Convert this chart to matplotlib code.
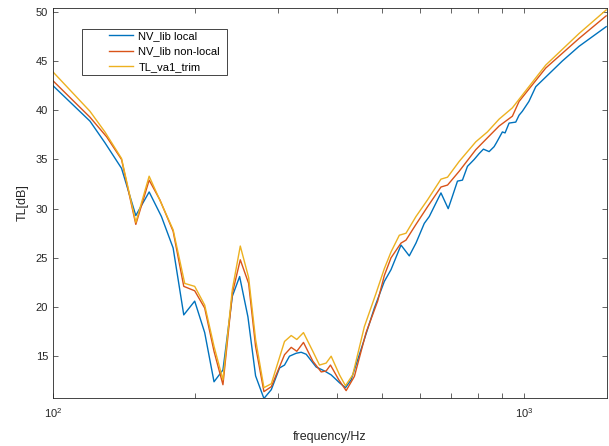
import numpy as np
import matplotlib
matplotlib.use("Agg")
import matplotlib.pyplot as plt
from matplotlib.patches import Rectangle
from matplotlib.ticker import LogLocator, NullFormatter, FixedLocator

plt.rcParams['font.family'] = ['Liberation Sans', 'DejaVu Sans']

# values
f_local = [100, 119.8, 128.9, 139.8, 149.9, 160.0, 169.9, 179.9, 189.5, 199.9,
           209.9, 219.7, 229.5, 240.3, 249.0, 259.3, 269.2, 280.4, 290.7, 302.6,
           310.1, 317.7, 328.3, 336.4, 344.7, 362.0, 377.0, 389.5, 405.7, 417.7,
           429.5, 454.4, 481.1, 505.1, 521.9, 548.0, 570.6, 589.6, 614.0, 629.2,
           666.2, 690.2, 702.8, 722.2, 740.0, 758.3, 783.6, 802.9, 819.9, 843.0,
           863.8, 873.6, 899.5, 911.4, 929.4, 960.3, 975.9, 991.7, 1024, 1059,
           1205, 1308, 1494]
tl_local = [42.5, 38.9, 36.7, 34.1, 29.3, 31.7, 29.2, 26.0, 19.2, 20.6,
            17.4, 12.4, 13.6, 21.1, 23.1, 19.0, 13.0, 10.7, 11.6, 13.8,
            14.1, 15.0, 15.3, 15.4, 15.2, 13.9, 13.5, 13.1, 12.3, 11.8,
            12.6, 16.2, 19.9, 22.6, 23.8, 26.3, 25.2, 26.5, 28.5, 29.2,
            31.6, 30.0, 31.1, 32.8, 32.9, 34.3, 35.0, 35.6, 36.05, 35.8,
            36.3, 36.7, 37.8, 37.7, 38.7, 38.8, 39.5, 39.9, 40.9, 42.4,
            45.0, 46.5, 48.5]

f_nonlocal = [100, 119.8, 130.0, 139.8, 149.9, 160.0, 168.6, 179.9, 189.5, 199.9,
              209.9, 219.7, 229.5, 240.3, 249.8, 260.2, 269.2, 280.4, 290.7, 310.1,
              320.4, 329.3, 340.2, 356.1, 371.0, 380.1, 388.2, 404.3, 419.1, 436.4,
              462.0, 488.9, 505.1, 521.9, 548.0, 561.5, 589.6, 624.0, 666.2, 688.0,
              728.2, 790.0, 836.0, 885.1, 944.6, 975.9, 1112, 1308, 1494]
tl_nonlocal = [43.0, 39.3, 37.3, 35.0, 28.4, 32.9, 30.9, 27.7, 22.1, 21.65,
               19.9, 15.5, 12.1, 21.4, 24.8, 22.4, 16.0, 11.4, 11.9, 15.15,
               15.9, 15.5, 16.4, 14.5, 13.4, 13.5, 14.1, 12.6, 11.5, 12.95,
               17.4, 20.6, 23.2, 25.0, 26.5, 26.8, 28.4, 30.2, 32.2, 32.4,
               33.8, 36.0, 37.2, 38.4, 39.4, 40.9, 44.3, 47.3, 49.6]

f_trim = [100, 119.8, 128.9, 139.8, 149.9, 160.0, 179.9, 190.4, 199.9, 209.9,
          219.7, 229.5, 240.3, 249.8, 260.2, 269.2, 280.4, 290.7, 310.1, 320.4,
          329.3, 340.2, 356.1, 367.9, 380.1, 389.5, 405.7, 417.7, 432.8, 458.1,
          485.1, 505.1, 521.9, 543.5, 561.5, 589.6, 624.0, 666.2, 688.0, 728.2,
          790.0, 836.0, 885.1, 944.6, 1112, 1308, 1494]
tl_trim = [43.9, 39.9, 37.8, 35.1, 28.6, 33.3, 27.85, 22.4, 22.1, 20.2,
           16.0, 12.6, 21.8, 26.2, 23.0, 16.7, 11.8, 12.2, 16.5, 17.1,
           16.7, 17.4, 15.5, 14.1, 14.3, 15.0, 13.1, 12.0, 13.1, 18.0,
           21.4, 23.9, 25.6, 27.3, 27.5, 29.2, 30.9, 33.0, 33.2, 34.8,
           36.8, 37.8, 39.1, 40.25, 44.6, 47.8, 50.2]

labels = ['NV_lib local', 'NV_lib non-local', 'TL_va1_trim']
colors = ['#0072BD', '#D95319', '#EDB120']
dark = '#262626'

fig = plt.figure(figsize=(6.09, 4.46), dpi=100)
ax = fig.add_axes([53 / 609, 48 / 446, 554 / 609, 390 / 446])

ax.plot(f_local, tl_local, color=colors[0], lw=1.0, label=labels[0])
ax.plot(f_nonlocal, tl_nonlocal, color=colors[1], lw=1.0, label=labels[1])
ax.plot(f_trim, tl_trim, color=colors[2], lw=1.0, label=labels[2])

ax.set_xscale('log')
ax.set_xlim(100, 1500)
ax.set_ylim(10.75, 50.4)
ax.yaxis.set_major_locator(FixedLocator(np.arange(15, 51, 5)))
ax.xaxis.set_minor_locator(LogLocator(base=10, subs=np.arange(2, 10)))
ax.xaxis.set_minor_formatter(NullFormatter())

ax.tick_params(which='both', direction='in', top=True, right=True,
               color=dark, labelcolor=dark, labelsize=8, width=0.5, length=3.5)
ax.tick_params(axis='x', which='major', pad=6)
for s in ax.spines.values():
    s.set_color(dark)
    s.set_linewidth(0.6)

ax.set_xlabel('frequency/Hz', fontsize=9, color=dark, labelpad=8)
ax.set_ylabel('TL[dB]', fontsize=9, color=dark, labelpad=5)

# legend box in MATLAB style
ax.add_patch(Rectangle((29 / 554, 1 - 67 / 390), 145 / 554, 46 / 390,
                       transform=ax.transAxes, fill=False, ec=dark, lw=0.6,
                       zorder=5))
ax.legend(loc='upper left', bbox_to_anchor=(56 / 554, 1 - 23 / 390),
          frameon=False, fontsize=8, borderpad=0, borderaxespad=0,
          handlelength=2.2, handletextpad=0.45, labelspacing=0.5)

fig.savefig('out.png', dpi=100)
